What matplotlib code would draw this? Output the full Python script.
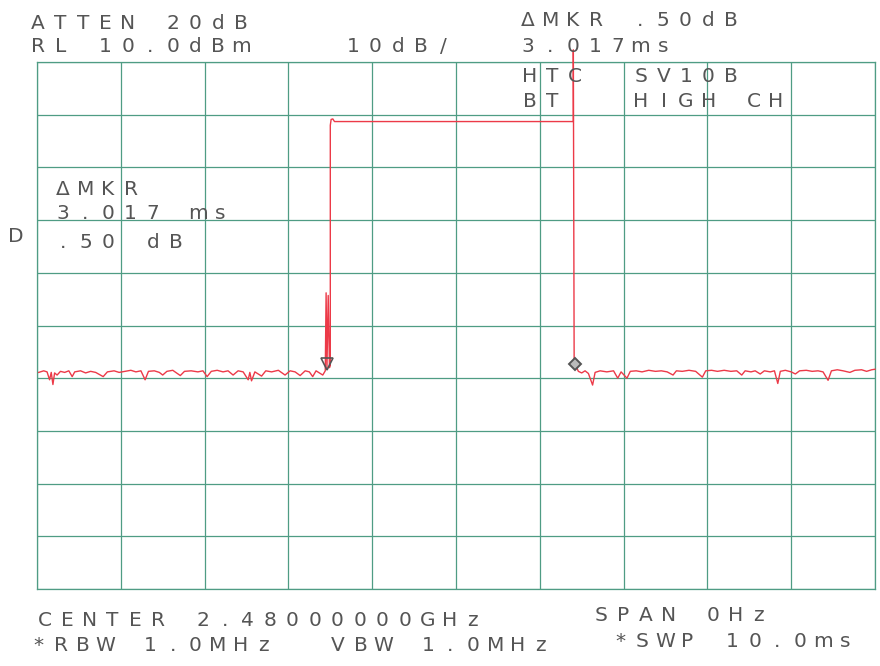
import numpy as np
import matplotlib.pyplot as plt

W, H = 880, 666

# trace: time (ms) vs level (dBm)
left_t = [0.02, 0.08, 0.12, 0.15, 0.17, 0.19, 0.21, 0.24, 0.28, 0.33, 0.38, 0.42, 0.45,
          0.52, 0.58, 0.64, 0.70, 0.79, 0.84, 0.92, 0.98, 1.05, 1.12, 1.18, 1.24, 1.29,
          1.33, 1.40, 1.46, 1.50, 1.55, 1.62, 1.71, 1.76, 1.84, 1.92, 1.98, 2.03, 2.08,
          2.15, 2.22, 2.28, 2.34, 2.40, 2.46, 2.52, 2.54, 2.56, 2.60, 2.68, 2.73, 2.80,
          2.88, 2.96, 3.02, 3.08, 3.14, 3.20, 3.25, 3.29, 3.33, 3.37, 3.41, 3.44]
left_db = [-48.9, -48.6, -48.8, -50.3, -48.9, -51.2, -49.0, -49.4, -48.7, -48.9, -48.6, -49.7, -48.8,
           -48.6, -49.0, -48.7, -48.9, -49.7, -48.8, -48.6, -48.9, -48.7, -48.5, -48.8, -48.6, -50.3,
           -48.7, -48.6, -48.9, -49.4, -48.7, -48.5, -49.5, -48.7, -48.6, -48.8, -48.6, -49.7, -48.7,
           -48.5, -48.8, -48.6, -49.4, -48.6, -48.8, -50.3, -48.9, -50.5, -48.8, -49.6, -48.6, -48.8,
           -48.5, -49.4, -48.6, -48.8, -49.5, -48.6, -48.8, -49.7, -48.6, -49.0, -49.4, -48.6]

pulse_t = [3.45, 3.46, 3.475, 3.49, 3.50, 3.50, 3.51, 3.53, 3.55, 6.40, 6.40, 6.41]
pulse_db = [-33.8, -48.2, -34.3, -48.0, -47.5, -2.0, -0.9, -0.8, -1.3, -1.3, 12.3, -47.3]

right_t = [6.43, 6.46, 6.50, 6.54, 6.58, 6.63, 6.66, 6.72, 6.80, 6.88, 6.93, 6.97, 7.04, 7.08,
           7.15, 7.22, 7.30, 7.38, 7.45, 7.52, 7.59, 7.63, 7.70, 7.78, 7.86, 7.94, 7.98, 8.05,
           8.12, 8.20, 8.28, 8.35, 8.41, 8.45, 8.52, 8.57, 8.63, 8.68, 8.75, 8.80, 8.84, 8.87,
           8.93, 9.00, 9.05, 9.10, 9.18, 9.25, 9.32, 9.38, 9.44, 9.48, 9.55, 9.62, 9.70, 9.76,
           9.84, 9.90, 9.96, 10.0]
right_db = [-47.6, -48.7, -49.0, -48.6, -49.1, -51.3, -48.9, -48.6, -48.8, -48.6, -50.0, -48.8, -50.0, -48.7,
            -48.6, -48.8, -48.5, -48.7, -48.6, -48.8, -49.4, -48.6, -48.7, -48.5, -48.7, -49.8, -48.6, -48.5,
            -48.7, -48.5, -48.7, -48.6, -49.4, -48.6, -48.8, -48.6, -49.2, -48.6, -48.8, -48.6, -51.0, -48.7,
            -48.5, -48.8, -49.2, -48.6, -48.5, -48.7, -48.6, -48.8, -50.4, -48.6, -48.4, -48.6, -48.9, -48.5,
            -48.4, -48.7, -48.4, -48.3]

mkr1 = (3.46, -47.4)
mkr2 = (6.42, -47.3)

grid_c = "#4f9c84"
red = "#ec3a48"
ink = "#555555"

fig = plt.figure(figsize=(W / 100, H / 100), dpi=100)
ax = fig.add_axes([37 / W, 1 - 589 / H, 838 / W, 527 / H])
ax.set_xlim(0, 10)
ax.set_ylim(-90, 10)
ax.set_xticks(np.arange(0, 11, 1))
ax.set_yticks(np.arange(-90, 11, 10))
ax.tick_params(length=0, labelbottom=False, labelleft=False)
ax.grid(True, color=grid_c, linewidth=0.9)
for s in ax.spines.values():
    s.set_color(grid_c)
    s.set_linewidth(0.9)

t = left_t + pulse_t + right_t
db = left_db + pulse_db + right_db
ax.plot(t, db, color=red, linewidth=1.0, clip_on=False, zorder=3)
ax.plot(*mkr1, marker="v", markersize=8, markerfacecolor="none",
        markeredgecolor=ink, markeredgewidth=1.2, zorder=4)
ax.plot(*mkr2, marker="D", markersize=6, markerfacecolor="#bbbbbb",
        markeredgecolor=ink, markeredgewidth=1.4, zorder=4)


def label(x, y, s, pitch=22.5):
    # plotter font: fixed wide pitch per character
    for i, ch in enumerate(s):
        fig.text((x + 8 + i * pitch) / W, 1 - y / H, ch, ha="center", va="baseline",
                 fontsize=14.5, color=ink, family="DejaVu Sans")


label(30, 29, "ATTEN 20dB")
label(30, 52, "RL 10.0dBm")
label(345, 52, "10dB/")
label(520, 26, "ΔMKR .50dB")
label(520, 52, "3.017ms")
label(522, 82, "HTC")
label(633, 82, "SV10B")
label(522, 107, "BT")
label(633, 107, "HIGH CH")
label(55, 195, "ΔMKR")
label(55, 219, "3.017 ms")
label(55, 248, ".50 dB")
label(8, 242, "D")
label(37, 626, "CENTER 2.48000000GHz")
label(593, 621, "SPAN 0Hz")
label(30, 651, "*RBW 1.0MHz")
label(330, 651, "VBW 1.0MHz")
label(612, 647, "*SWP 10.0ms")

fig.savefig("out.png", dpi=100)
